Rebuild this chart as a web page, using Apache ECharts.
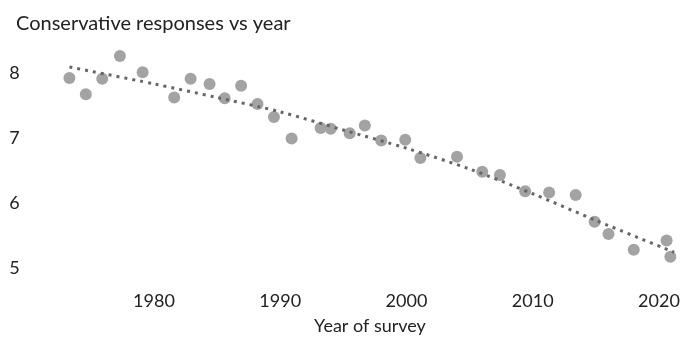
<!DOCTYPE html>
<html>
<head>
<meta charset="utf-8">
<script src="https://cdn.jsdelivr.net/npm/echarts@6/dist/echarts.min.js"></script>
<style>html,body{margin:0;padding:0;background:#fff}#c{width:695px;height:346px}</style>
</head>
<body>
<div id="c"></div>
<script>
const years = [1973.3,1974.6,1975.9,1977.3,1979.1,1981.6,1982.9,1984.4,1985.6,1986.9,1988.2,1989.5,1990.9,1993.2,1994.0,1995.5,1996.7,1998.0,1999.9,2001.1,2004.0,2006.0,2007.4,2009.4,2011.3,2013.4,2014.9,2016.0,2018.0,2020.6,2020.9];
const values = [7.93,7.68,7.92,8.27,8.02,7.63,7.92,7.84,7.62,7.81,7.53,7.33,7.00,7.16,7.15,7.08,7.20,6.97,6.98,6.70,6.72,6.49,6.44,6.19,6.17,6.13,5.72,5.53,5.29,5.43,5.18];
const trendYears = [1973.3,1980,1985,1990,1995,2000,2005,2010,2015,2021.2];
const trendValues = [8.10,7.84,7.63,7.41,7.13,6.85,6.53,6.15,5.74,5.25];
const xTicks = [1980,1990,2000,2010,2020];
const yTicks = [5,6,7,8];
const titleText = 'Conservative responses vs year';
const xName = 'Year of survey';

const font = 'Lato';
const chart = echarts.init(document.getElementById('c'), null, {renderer:'canvas'});
chart.setOption({
  animation:false,
  backgroundColor:'#fff',
  title:{text:titleText,left:11,top:9,textStyle:{fontFamily:font,fontSize:20,fontWeight:'normal',color:'#222'}},
  grid:{left:27.75,right:10.75,top:41,bottom:61.25},
  xAxis:{type:'value',min:1970,max:2022,
    axisLine:{show:false},axisTick:{show:false},splitLine:{show:false},
    axisLabel:{customValues:xTicks,formatter:v=>String(v),margin:7,fontFamily:font,fontSize:18,color:'#222'},
    name:xName,nameLocation:'middle',nameGap:32,
    nameTextStyle:{fontFamily:font,fontSize:18,color:'#222',padding:[0,0,0,28]}},
  yAxis:{type:'value',min:4.75,max:8.5,
    axisLine:{show:false},axisTick:{show:false},splitLine:{show:false},
    axisLabel:{customValues:yTicks,formatter:v=>String(v),margin:8,fontFamily:font,fontSize:18,color:'#222'}},
  series:[
    {type:'scatter',clip:false,data:years.map((y,i)=>[y,values[i]]),symbolSize:12,
      itemStyle:{color:'#a3a3a3',opacity:1}},
    {type:'line',clip:false,data:trendYears.map((y,i)=>[y,trendValues[i]]),smooth:0.3,showSymbol:false,
      lineStyle:{color:'#666',width:3,type:[3,5],cap:'butt'},z:3}
  ]
});
</script>
</body>
</html>
